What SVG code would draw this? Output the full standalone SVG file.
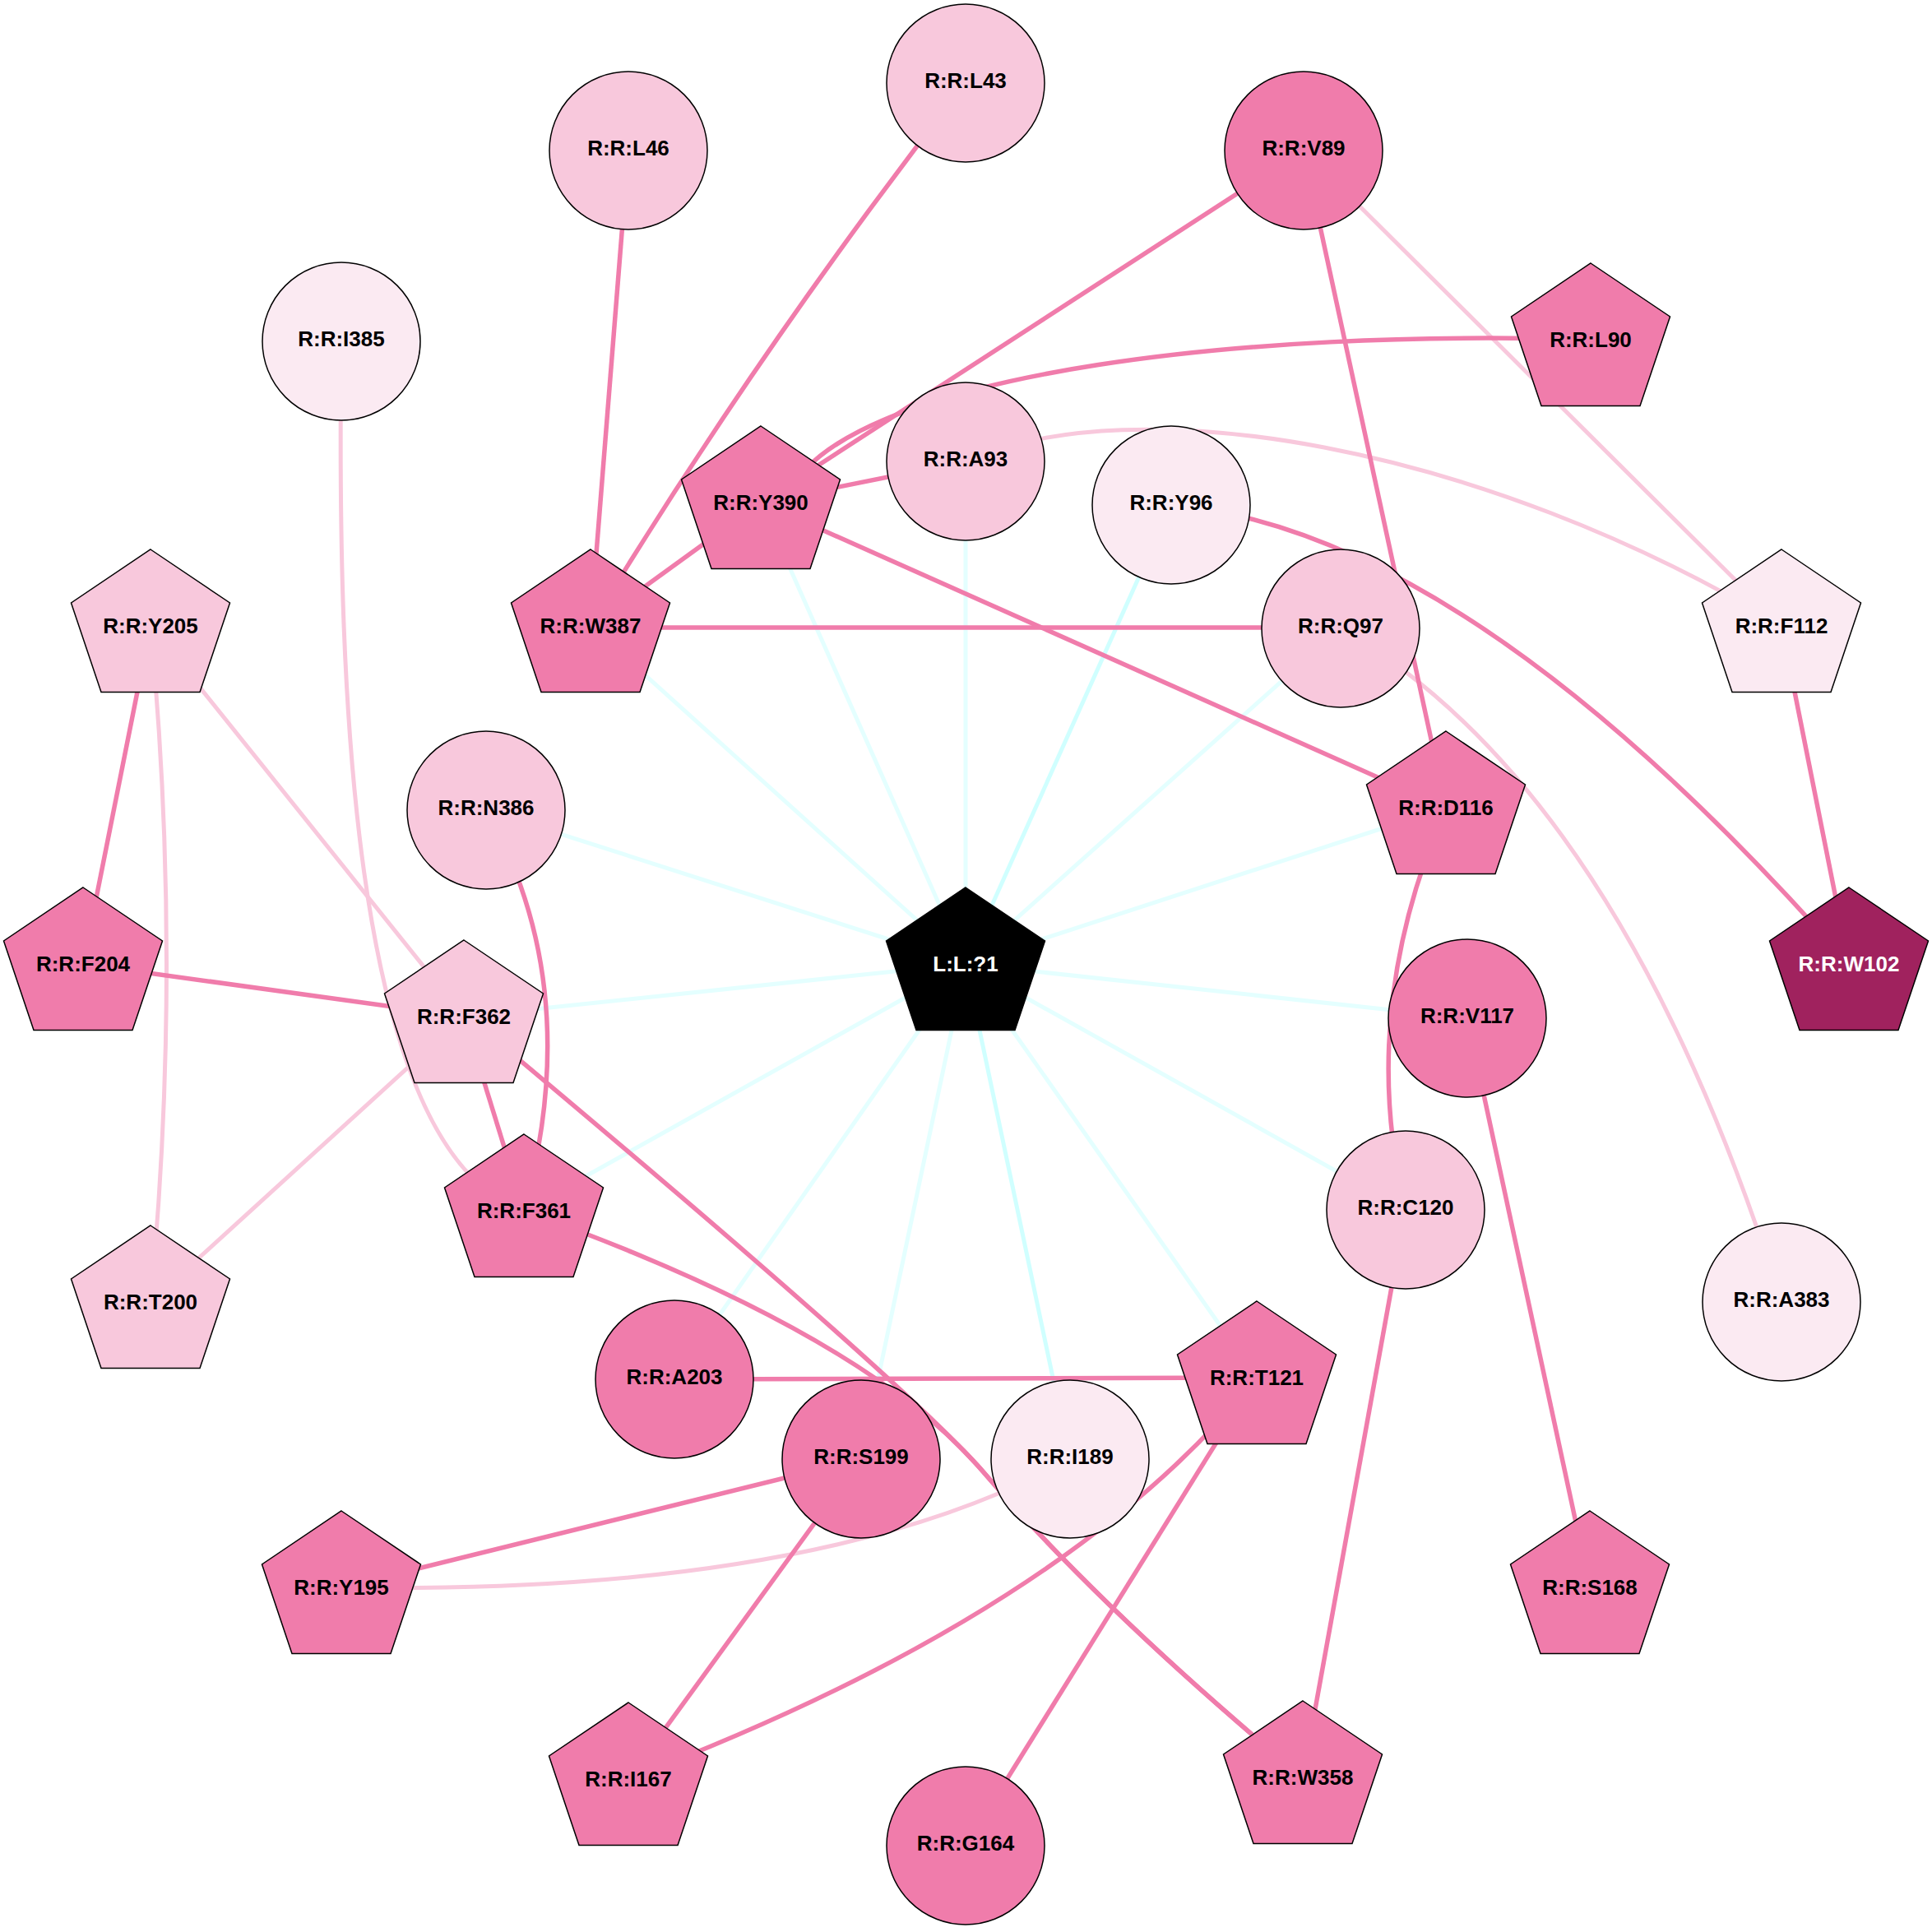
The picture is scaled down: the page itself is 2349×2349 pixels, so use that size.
<svg xmlns="http://www.w3.org/2000/svg" xmlns:xlink="http://www.w3.org/1999/xlink" width="2349" height="2349" viewBox="0 0 2349 2349">
<style>
.e{fill:none;stroke-width:5}
.c{stroke:#e4ffff}
.cs{stroke:#d0ffff}
.d{stroke:#f07cab;stroke-width:5.5}
.l{stroke:#f8c8dc}
.n{stroke:#000;stroke-width:1.5}
.dk{fill:#f07cab}
.lt{fill:#f8c8dc}
.vl{fill:#fbeaf2}
.pu{fill:#a0225e}
.bk{fill:#000}
text{font-family:"Liberation Sans",Arial,sans-serif;font-weight:bold;font-size:26px;text-anchor:middle;fill:#000}
text.w{fill:#fff}
</style>
<defs>
<polygon id="pent" points="0,-93 96.5,-28 60,80.5 -60,80.5 -96.5,-28"/>
</defs>
<rect width="2349" height="2349" fill="#fff"/>
<g id="connectors">
<path class="e c" d="M1174,1172 L1174,561"/>
<path class="e c" d="M1174,1172 L925,611"/>
<path class="e c" d="M1174,1172 L718,761"/>
<path class="e cs" d="M1174,1172 L1424,614"/>
<path class="e c" d="M1174,1172 L1630,764"/>
<path class="e c" d="M1174,1172 L591,985"/>
<path class="e c" d="M1174,1172 L1758,982"/>
<path class="e c" d="M1174,1172 L564,1236"/>
<path class="e c" d="M1174,1172 L1784,1238"/>
<path class="e c" d="M1174,1172 L1709,1471"/>
<path class="e c" d="M1174,1172 L1528,1675"/>
<path class="e cs" d="M1174,1172 L1301,1774"/>
<path class="e c" d="M1174,1172 L1047,1774"/>
<path class="e c" d="M1174,1172 L820,1677"/>
<path class="e c" d="M1174,1172 L637,1472"/>
<path class="e l" d="M1585,183 L2166,761"/>
<path class="e l" d="M1174,561 C1380,470 1800,540 2166,761"/>
<path class="e l" d="M1630,764 Q1970,960 2166,1583"/>
<path class="e l" d="M415,415 C410,800 420,1400 637,1472"/>
<path class="e l" d="M183,761 Q222,1172 183,1583"/>
<path class="e l" d="M183,761 L564,1236"/>
<path class="e l" d="M564,1236 L183,1583"/>
<path class="e l" d="M1301,1774 Q1000,1940 415,1930"/>
<path class="e d" d="M764,183 L718,761"/>
<path class="e d" d="M1174,101 Q925,420 718,761"/>
<path class="e d" d="M1585,183 L925,611"/>
<path class="e d" d="M1585,183 L1758,982"/>
<path class="e d" d="M1934,413 C1500,400 1090,455 980,570 L925,611"/>
<path class="e d" d="M1174,561 L925,611"/>
<path class="e d" d="M925,611 L718,761"/>
<path class="e d" d="M925,611 L1758,982"/>
<path class="e d" d="M718,763 L1630,763"/>
<path class="e d" d="M1424,614 Q1785,645 2248,1172"/>
<path class="e d" d="M2166,761 L2248,1172"/>
<path class="e d" d="M1758,982 Q1650,1230 1709,1471"/>
<path class="e d" d="M1784,1238 L1933,1930"/>
<path class="e d" d="M1709,1471 L1584,2161"/>
<path class="e d" d="M183,761 L101,1172"/>
<path class="e d" d="M101,1172 L564,1236"/>
<path class="e d" d="M564,1236 L637,1472"/>
<path class="e d" d="M591,985 Q712,1200 637,1472"/>
<path class="e d" d="M564,1232 Q1100,1680 1195,1789 Q1340,1958 1584,2161"/>
<path class="e d" d="M637,1472 Q1050,1620 1195,1789 Q1340,1958 1584,2161"/>
<path class="e d" d="M820,1677 L1528,1675"/>
<path class="e d" d="M1047,1774 L415,1930"/>
<path class="e d" d="M1047,1774 L764,2163"/>
<path class="e d" d="M1528,1675 Q1300,1960 764,2163"/>
<path class="e d" d="M1528,1675 L1174,2244"/>
</g>
<g id="nodes">
<g id="n-L43"><circle class="n lt" cx="1174" cy="101" r="96"/><text x="1174" y="107">R:R:L43</text></g>
<g id="n-L46"><circle class="n lt" cx="764" cy="183" r="96"/><text x="764" y="189">R:R:L46</text></g>
<g id="n-V89"><circle class="n dk" cx="1585" cy="183" r="96"/><text x="1585" y="189">R:R:V89</text></g>
<g id="n-I385"><circle class="n vl" cx="415" cy="415" r="96"/><text x="415" y="421">R:R:I385</text></g>
<g id="n-A93"><circle class="n lt" cx="1174" cy="561" r="96"/><text x="1174" y="567">R:R:A93</text></g>
<g id="n-Y96"><circle class="n vl" cx="1424" cy="614" r="96"/><text x="1424" y="620">R:R:Y96</text></g>
<g id="n-Q97"><circle class="n lt" cx="1630" cy="764" r="96"/><text x="1630" y="770">R:R:Q97</text></g>
<g id="n-N386"><circle class="n lt" cx="591" cy="985" r="96"/><text x="591" y="991">R:R:N386</text></g>
<g id="n-V117"><circle class="n dk" cx="1784" cy="1238" r="96"/><text x="1784" y="1244">R:R:V117</text></g>
<g id="n-C120"><circle class="n lt" cx="1709" cy="1471" r="96"/><text x="1709" y="1477">R:R:C120</text></g>
<g id="n-A383"><circle class="n vl" cx="2166" cy="1583" r="96"/><text x="2166" y="1589">R:R:A383</text></g>
<g id="n-A203"><circle class="n dk" cx="820" cy="1677" r="96"/><text x="820" y="1683">R:R:A203</text></g>
<g id="n-S199"><circle class="n dk" cx="1047" cy="1774" r="96"/><text x="1047" y="1780">R:R:S199</text></g>
<g id="n-I189"><circle class="n vl" cx="1301" cy="1774" r="96"/><text x="1301" y="1780">R:R:I189</text></g>
<g id="n-G164"><circle class="n dk" cx="1174" cy="2244" r="96"/><text x="1174" y="2250">R:R:G164</text></g>
<g id="n-L90"><use xlink:href="#pent" class="n dk" x="1934" y="413"/><text x="1934" y="422">R:R:L90</text></g>
<g id="n-Y390"><use xlink:href="#pent" class="n dk" x="925" y="611"/><text x="925" y="620">R:R:Y390</text></g>
<g id="n-W387"><use xlink:href="#pent" class="n dk" x="718" y="761"/><text x="718" y="770">R:R:W387</text></g>
<g id="n-F112"><use xlink:href="#pent" class="n vl" x="2166" y="761"/><text x="2166" y="770">R:R:F112</text></g>
<g id="n-Y205"><use xlink:href="#pent" class="n lt" x="183" y="761"/><text x="183" y="770">R:R:Y205</text></g>
<g id="n-D116"><use xlink:href="#pent" class="n dk" x="1758" y="982"/><text x="1758" y="991">R:R:D116</text></g>
<g id="n-F204"><use xlink:href="#pent" class="n dk" x="101" y="1172"/><text x="101" y="1181">R:R:F204</text></g>
<g id="n-F362"><use xlink:href="#pent" class="n lt" x="564" y="1236"/><text x="564" y="1245">R:R:F362</text></g>
<g id="n-W102"><use xlink:href="#pent" class="n pu" x="2248" y="1172"/><text class="w" x="2248" y="1181">R:R:W102</text></g>
<g id="n-L1"><use xlink:href="#pent" class="n bk" x="1174" y="1172"/><text class="w" x="1174" y="1181">L:L:?1</text></g>
<g id="n-F361"><use xlink:href="#pent" class="n dk" x="637" y="1472"/><text x="637" y="1481">R:R:F361</text></g>
<g id="n-T200"><use xlink:href="#pent" class="n lt" x="183" y="1583"/><text x="183" y="1592">R:R:T200</text></g>
<g id="n-T121"><use xlink:href="#pent" class="n dk" x="1528" y="1675"/><text x="1528" y="1684">R:R:T121</text></g>
<g id="n-Y195"><use xlink:href="#pent" class="n dk" x="415" y="1930"/><text x="415" y="1939">R:R:Y195</text></g>
<g id="n-S168"><use xlink:href="#pent" class="n dk" x="1933" y="1930"/><text x="1933" y="1939">R:R:S168</text></g>
<g id="n-I167"><use xlink:href="#pent" class="n dk" x="764" y="2163"/><text x="764" y="2172">R:R:I167</text></g>
<g id="n-W358"><use xlink:href="#pent" class="n dk" x="1584" y="2161"/><text x="1584" y="2170">R:R:W358</text></g>
</g>
</svg>
